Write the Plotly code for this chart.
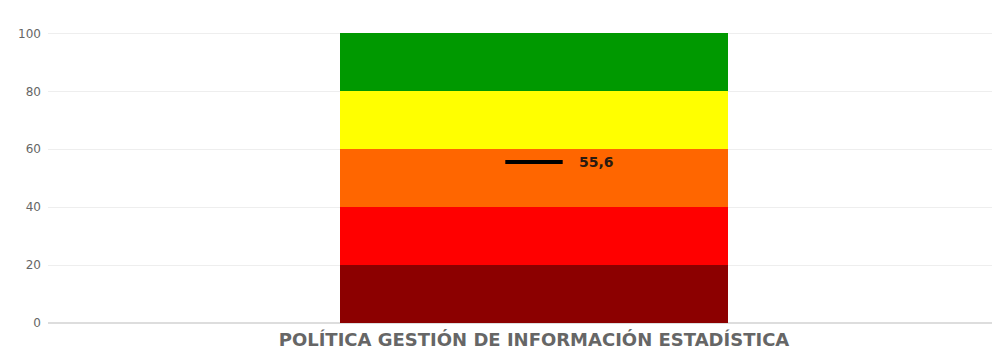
import plotly.graph_objects as go

categories = ["POLÍTICA GESTIÓN DE INFORMACIÓN ESTADÍSTICA"]
band_values = [20, 20, 20, 20, 20]
band_colors = ["#8c0000", "#ff0000", "#ff6600", "#ffff00", "#009900"]
score_values = [55.6]
score_labels = ["55,6"]
y_ticks = [0, 20, 40, 60, 80, 100]

fig = go.Figure()
for v, c in zip(band_values, band_colors):
    fig.add_trace(go.Bar(x=categories, y=[v], marker=dict(color=c, line=dict(width=0)),
                         width=0.404, showlegend=False, hoverinfo="skip"))

fig.add_trace(go.Scatter(
    x=categories, y=score_values, mode="markers",
    marker=dict(symbol="line-ew", size=41, line=dict(width=4, color="#000000")),
    showlegend=False, hoverinfo="skip", cliponaxis=False))

for c, v, t in zip(categories, score_values, score_labels):
    fig.add_annotation(x=c, y=v, text="<b>" + t + "</b>", showarrow=False,
                       xanchor="left", yanchor="middle", xshift=43,
                       font=dict(family="DejaVu Sans", size=14, color="#2a1a10"))

fig.update_layout(
    barmode="stack", width=1000, height=350,
    margin=dict(l=40, r=0, t=11, b=35),
    plot_bgcolor="white", paper_bgcolor="white",
    xaxis=dict(range=[-0.50625, 0.49375], showgrid=False, showline=False, zeroline=False,
               tickfont=dict(family="DejaVu Sans", size=18, color="#666666", weight="bold"),
               ticks="", ticklabelstandoff=4),
    yaxis=dict(range=[0, 105], tickvals=y_ticks, showgrid=True, gridcolor="#eeeeee",
               zeroline=True, zerolinecolor="#dddddd",
               tickfont=dict(family="DejaVu Sans", size=12, color="#666666"), ticklabelstandoff=6),
)
fig.write_html("out.html")
